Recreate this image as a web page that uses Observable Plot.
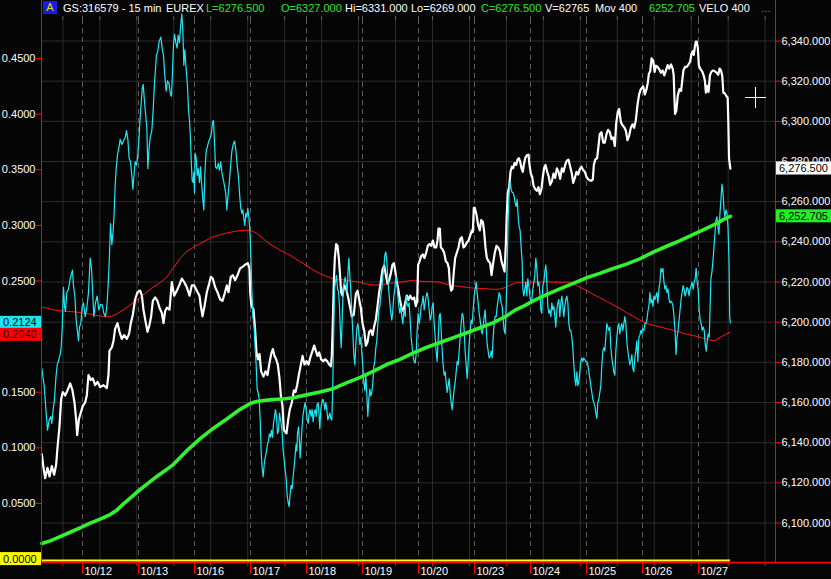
<!DOCTYPE html>
<html><head><meta charset="utf-8">
<script src="https://cdn.jsdelivr.net/npm/d3@7"></script>
<script src="https://cdn.jsdelivr.net/npm/@observablehq/plot@0.6"></script>
<style>
html,body{margin:0;padding:0;background:#050505;}
#wrap{position:relative;width:831px;height:579px;overflow:hidden;background:#050505;font-family:'Liberation Sans',Arial,sans-serif;}
#hdr span{position:absolute;top:2px;font-size:11px;line-height:12px;white-space:pre;}
#abox{position:absolute;left:43px;top:1px;width:14px;height:13px;background:#1a1ae6;color:#f0d000;font-size:11px;line-height:13px;text-align:center;}
.cross{position:absolute;background:#fff;}
</style></head><body><div id="wrap"><div id="hdr"><div id="abox">A</div></div>
<div class="cross" style="left:745px;top:97px;width:21px;height:1px"></div>
<div class="cross" style="left:755px;top:87px;width:1px;height:21px"></div>
</div>
<script>
// x = trading-day position (0 = start of 10/12)
const dayT = [0,1,2,3,4,5,6,7,8,9,10,11];
const dayLabels = ["10/12","10/13","10/16","10/17","10/18","10/19","10/20","10/23","10/24","10/25","10/26","10/27"];
const gridT = [-0.35,0.31,0.97,1.63,2.29,2.95,3.61,4.27,4.93,5.59,6.25,6.91,7.57,8.23,8.89,9.55,10.21,10.87,11.53,12.19];
const priceTicks = [6100,6120,6140,6160,6180,6200,6220,6240,6260,6280,6300,6320,6340];
const veloTicks = [0,0.05,0.1,0.15,0.2,0.25,0.3,0.35,0.4,0.45];
const veloHiddenLabels = [0, 0.2]; // covered by the value tags in the reference

// price (white, right axis)
const price = [[-0.726,6134.3],[-0.696,6127.5],[-0.667,6122.3],[-0.625,6127.5],[-0.589,6123.2],[-0.548,6128.3],[-0.506,6124],[-0.47,6129.2],[-0.446,6137.7],[-0.411,6148],[-0.381,6161.7],[-0.351,6165.2],[-0.31,6163.5],[-0.268,6166],[-0.22,6169.5],[-0.179,6166],[-0.143,6160],[-0.113,6151.5],[-0.095,6143.7],[-0.065,6151.5],[-0.03,6155],[0.006,6158.3],[0.048,6160],[0.077,6163.5],[0.107,6173.7],[0.149,6171.2],[0.185,6172],[0.226,6168.6],[0.268,6170.3],[0.315,6167.7],[0.375,6168.6],[0.435,6167.2],[0.464,6173.7],[0.482,6185.7],[0.524,6187.4],[0.554,6190.8],[0.583,6196.8],[0.625,6199.5],[0.661,6195.2],[0.702,6191.7],[0.744,6193.5],[0.792,6191.7],[0.833,6194.3],[0.863,6199.5],[0.899,6203.7],[0.94,6211.4],[0.982,6214.9],[1.03,6215.7],[1.06,6213.2],[1.089,6206.2],[1.131,6199.5],[1.161,6195.2],[1.196,6198.6],[1.226,6202.9],[1.256,6210.6],[1.298,6212.3],[1.339,6210.6],[1.375,6207.2],[1.417,6204.6],[1.446,6199.5],[1.476,6205.5],
[1.506,6207.2],[1.554,6206.3],[1.595,6220],[1.637,6213.2],[1.685,6215.7],[1.726,6218.3],[1.774,6221.7],[1.815,6220],[1.863,6217.4],[1.911,6213.2],[1.952,6218.3],[1.994,6218.3],[2.042,6215.7],[2.089,6213.2],[2.113,6208],[2.143,6202.9],[2.179,6208],[2.22,6214.9],[2.262,6219.2],[2.292,6222.6],[2.327,6221.7],[2.369,6217.4],[2.411,6214.9],[2.458,6211.4],[2.5,6210.6],[2.536,6214],[2.577,6218.3],[2.607,6214.9],[2.649,6222.6],[2.685,6223.4],[2.726,6220.9],[2.768,6223.4],[2.815,6226.8],[2.863,6227.7],[2.905,6228.6],[2.952,6229.4],[2.982,6226.8],[2.994,6214.9],[3.018,6208],[3.054,6206.3],[3.083,6196],[3.107,6184.9],[3.131,6181.5],[3.161,6184.1],[3.19,6175.5],[3.232,6172.9],[3.268,6175.5],[3.304,6173.7],[3.339,6179.7],[3.369,6184.1],[3.399,6186.6],[3.429,6183.2],[3.458,6181.5],[3.488,6178.9],[3.518,6172],[3.542,6163.5],[3.571,6158.3],
[3.595,6146.3],[3.643,6144.6],[3.673,6151.5],[3.702,6156.6],[3.738,6160],[3.774,6166],[3.804,6165.2],[3.833,6168.6],[3.863,6173.7],[3.893,6178],[3.929,6183.2],[3.964,6178.9],[4,6180.6],[4.036,6178.9],[4.071,6182.7],[4.107,6185.7],[4.137,6188.3],[4.167,6185.7],[4.196,6183.2],[4.226,6184.9],[4.262,6181.5],[4.298,6180.6],[4.333,6181.5],[4.369,6180.6],[4.405,6178.9],[4.435,6178],[4.452,6183.2],[4.47,6199.5],[4.488,6220],[4.506,6232],[4.53,6238.9],[4.554,6238],[4.577,6232],[4.595,6225.2],[4.619,6214.9],[4.643,6213.2],[4.673,6218.3],[4.708,6216.6],[4.744,6212.3],[4.78,6207.2],[4.81,6202.9],[4.845,6203.7],[4.881,6214],[4.911,6215.7],[4.94,6211.4],[4.97,6207.2],[5,6199.5],[5.03,6196],[5.06,6188.3],[5.089,6190],[5.119,6195.2],[5.149,6196],[5.179,6193.5],[5.208,6197.8],[5.238,6201.2],[5.268,6208],[5.298,6214.9],[5.327,6220],[5.357,6226],[5.387,6228.2],[5.417,6223.4],[5.446,6219.2],[5.476,6220.9],[5.506,6224.3],[5.536,6228.6],[5.56,6229.4],[5.583,6226],[5.607,6220.9],[5.637,6216.6],[5.667,6211.4],[5.696,6207.2],
[5.732,6205.5],[5.762,6209.7],[5.792,6213.2],[5.821,6211.1],[5.851,6213.2],[5.887,6211.4],[5.923,6212.3],[5.952,6208],[5.976,6210.6],[5.994,6228.6],[6.018,6230.3],[6.048,6232.9],[6.077,6233.7],[6.107,6232],[6.137,6234.6],[6.167,6238],[6.196,6238.9],[6.226,6238],[6.256,6240.6],[6.286,6237.2],[6.315,6237.2],[6.339,6240.6],[6.357,6246.6],[6.381,6246.6],[6.399,6237.2],[6.429,6236.3],[6.458,6234.6],[6.488,6230.3],[6.518,6229.4],[6.542,6226.9],[6.56,6219.2],[6.583,6215.7],[6.607,6216.6],[6.631,6225.2],[6.655,6232],[6.685,6234.6],[6.714,6237.2],[6.744,6241.4],[6.774,6242.3],[6.804,6237.2],[6.833,6238],[6.863,6239.7],[6.893,6240.6],[6.923,6243.1],[6.952,6245.7],[6.97,6244.9],[6.988,6256.9],[7.006,6256.9],[7.036,6253.4],[7.065,6248.3],[7.095,6245.7],[7.119,6250.8],[7.149,6250],[7.173,6244.9],[7.196,6237.2],[7.22,6232],[7.25,6230.3],[7.28,6229.4],[7.304,6223.4],[7.333,6229.4],[7.363,6234.6],[7.393,6238],[7.423,6237.2],[7.452,6235.5],[7.482,6230.3],[7.512,6227.7],[7.536,6225.2],[7.56,6238.9],[7.577,6254.3],[7.595,6264.6],[7.619,6267.2],[7.643,6274.9],[7.667,6277.4],[7.69,6276.6],[7.714,6279.2],[7.744,6278.3],[7.768,6280.9],[7.792,6281.7],[7.815,6280],[7.839,6276.6],[7.863,6274.9],
[7.881,6278.3],[7.905,6281.7],[7.935,6283.1],[7.964,6283.4],[7.982,6278.3],[8.006,6274],[8.03,6272.3],[8.054,6268],[8.083,6266.3],[8.113,6265.4],[8.143,6267.2],[8.167,6263.7],[8.196,6266.3],[8.22,6272.3],[8.244,6276.9],[8.268,6278.3],[8.298,6274.9],[8.327,6272.3],[8.351,6268.4],[8.381,6270.1],[8.411,6274],[8.44,6271.8],[8.47,6276.6],[8.5,6274.9],[8.53,6271.4],[8.56,6276.6],[8.589,6274.9],[8.619,6278.3],[8.649,6280.4],[8.679,6280.9],[8.708,6277.5],[8.738,6274],[8.762,6269.4],[8.792,6271.8],[8.821,6274.9],[8.851,6273.5],[8.881,6276.2],[8.911,6277.4],[8.94,6275.7],[8.97,6274.9],[9,6272.3],[9.03,6271.1],[9.06,6270.6],[9.089,6270.4],[9.113,6271.1],[9.131,6278.3],[9.155,6280.9],[9.19,6281.7],[9.214,6287.7],[9.238,6293.7],[9.268,6294.6],[9.298,6289.4],[9.327,6289.4],[9.357,6293.7],[9.387,6295.8],[9.417,6294.6],[9.446,6291.2],[9.476,6292],[9.506,6287.7],[9.53,6298.9],[9.56,6304.9],[9.583,6306.1],[9.613,6299.7],[9.643,6298],[9.673,6297.1],[9.702,6295.4],[9.732,6290.6],[9.762,6292.9],[9.792,6296.8],[9.821,6298.5],[9.851,6296.8],[9.881,6300.6],[9.911,6308.3],[9.94,6313.4],[9.97,6316],
[10.012,6317.4],[10.042,6313.4],[10.072,6316],[10.096,6319.4],[10.114,6323.7],[10.138,6324.9],[10.162,6331.4],[10.192,6330.1],[10.216,6324.6],[10.24,6327.7],[10.269,6327.1],[10.299,6325.9],[10.329,6324.2],[10.359,6325.4],[10.389,6322.9],[10.419,6325.4],[10.449,6328],[10.479,6326.3],[10.509,6328.3],[10.539,6326.3],[10.557,6322.9],[10.569,6312.6],[10.581,6303.7],[10.605,6305.4],[10.629,6312.6],[10.659,6316],[10.689,6315.1],[10.713,6321.1],[10.731,6325.4],[10.76,6327.1],[10.79,6327.1],[10.82,6328.3],[10.85,6329.7],[10.874,6333.5],[10.898,6334.9],[10.916,6333.1],[10.934,6336.9],[10.952,6339.7],[10.97,6339.7],[10.988,6336.6],[11.006,6328],[11.036,6325.9],[11.066,6324.9],[11.096,6322.5],[11.114,6320.3],[11.132,6314.3],[11.156,6317.7],[11.18,6314.6],[11.204,6322.9],[11.234,6324.9],[11.263,6325.4],[11.293,6324.9],[11.323,6324.2],[11.353,6323.2],[11.377,6326.3],[11.401,6325.4],[11.425,6322.5],[11.443,6314.3],[11.467,6314],[11.497,6312.6],[11.521,6311.8],[11.533,6298.9],[11.545,6281.7],[11.569,6276.5]];

// Mov 400 (green, right axis)
const mov = [[-0.726,6089.8],[-0.577,6091.1],[-0.399,6093.2],[-0.22,6095.4],[-0.042,6097.6],[0.137,6099.9],[0.315,6101.9],[0.494,6104.2],[0.613,6106.4],[0.732,6109.5],[0.851,6112.4],[0.97,6115.3],[1.089,6118],[1.208,6120.6],[1.327,6123.2],[1.476,6126.1],[1.625,6129.2],[1.863,6136],[2.101,6142],[2.339,6147.2],[2.577,6151.8],[2.815,6156.6],[2.994,6159.5],[3.113,6160.5],[3.232,6161],[3.351,6161.3],[3.47,6161.6],[3.619,6161.9],[3.762,6162.4],[4,6163.8],[4.238,6165.2],[4.476,6166.9],[4.714,6169.8],[4.952,6172.4],[5.19,6175.5],[5.429,6178.9],[5.667,6181.5],[5.911,6184.7],[6.149,6187.5],[6.387,6189.9],[6.625,6192.3],[6.863,6194.7],[7.101,6197.2],[7.339,6199.8],[7.577,6203.2],[7.726,6206],[7.905,6208.4],[8.048,6210.6],[8.286,6213.7],[8.524,6216.6],[8.762,6219.3],[9,6222.1],[9.238,6224.3],[9.476,6226.7],[9.714,6228.9],[9.952,6231.5],[10.192,6234.9],[10.431,6237.8],[10.671,6240.6],[10.91,6243.7],[11.15,6246.8],[11.329,6249.2],[11.449,6251.2],[11.569,6252.705]];

// VELO 400 (cyan, left axis)
const velo = [[-0.726,0.1715],[-0.685,0.156],[-0.649,0.1313],[-0.625,0.1158],[-0.595,0.1251],[-0.565,0.1282],[-0.548,0.122],[-0.524,0.1344],[-0.5,0.1437],[-0.476,0.1622],[-0.452,0.1746],[-0.423,0.1792],[-0.399,0.1839],[-0.381,0.1901],[-0.363,0.2056],[-0.351,0.2272],[-0.339,0.2442],[-0.321,0.2272],[-0.304,0.2226],[-0.28,0.2396],[-0.25,0.2427],[-0.22,0.252],[-0.196,0.2566],[-0.179,0.2597],[-0.161,0.2458],[-0.137,0.2365],[-0.113,0.2148],[-0.089,0.204],[-0.071,0.1963],[-0.054,0.2086],[-0.03,0.2117],[-0.006,0.2272],[0.018,0.2303],[0.048,0.2179],[0.077,0.2257],[0.107,0.2396],[0.137,0.2705],[0.161,0.2613],[0.185,0.2365],[0.202,0.2179],[0.232,0.2303],[0.262,0.2365],[0.292,0.2241],[0.321,0.2288],[0.351,0.2288],[0.381,0.221],[0.411,0.2179],[0.44,0.2303],[0.464,0.252],[0.482,0.2736],[0.5,0.3015],[0.524,0.2829],[0.548,0.2953],[0.565,0.3108],[0.583,0.3355],[0.601,0.351],[0.625,0.3634],[0.649,0.3696],[0.673,0.3773],[0.702,0.3727],[0.732,0.3758],[0.762,0.3789],[0.786,0.3851],[0.81,0.3773],[0.833,0.3603],[0.857,0.3572],[0.881,0.3448],[0.899,0.3324],[0.917,0.3433],[0.94,0.3572],[0.964,0.3541],[0.988,0.3634],[1.006,0.3758],[1.03,0.3974],[1.048,0.4098],[1.065,0.4222],[1.083,0.4268],[1.107,0.4114],[1.131,0.3974],[1.149,0.3882],[1.167,0.351],[1.185,0.3665],[1.208,0.3789],[1.238,0.3851],[1.262,0.4036],[1.286,0.4284],[1.304,0.4408],[1.321,0.4531],[1.345,0.4562],[1.369,0.4655],[1.399,0.4692],[1.423,0.4593],[1.446,0.4531],[1.47,0.4346],
[1.494,0.4206],[1.518,0.4299],[1.548,0.4268],[1.571,0.4176],[1.589,0.416],[1.607,0.4377],[1.625,0.4624],[1.643,0.4717],[1.667,0.464],[1.69,0.4593],[1.708,0.4711],[1.732,0.464],[1.75,0.478],[1.774,0.49],[1.792,0.4748],[1.81,0.4439],[1.827,0.4578],[1.851,0.4408],[1.875,0.4253],[1.893,0.4036],[1.911,0.3943],[1.929,0.3773],[1.94,0.3603],[1.958,0.3402],[1.976,0.3386],[1.988,0.3479],[2,0.3293],[2.012,0.3649],[2.03,0.3603],[2.048,0.3448],[2.065,0.351],[2.089,0.3386],[2.107,0.3526],[2.125,0.3386],[2.149,0.3232],[2.167,0.3139],[2.185,0.3464],[2.208,0.3665],[2.232,0.3711],[2.256,0.3758],[2.28,0.3789],[2.304,0.3835],[2.321,0.3928],[2.339,0.3943],[2.357,0.3758],[2.375,0.3526],[2.399,0.351],[2.423,0.3557],[2.446,0.3495],[2.47,0.3572],[2.488,0.3479],[2.512,0.3417],[2.536,0.3355],[2.56,0.3278],[2.577,0.3139],[2.595,0.3247],[2.619,0.3371],[2.643,0.3526],[2.667,0.3665],[2.69,0.3727],[2.714,0.3758],[2.738,0.3681],[2.762,0.3541],[2.786,0.3433],[2.81,0.3247],[2.827,0.3154],[2.845,0.3108],[2.863,0.3139],[2.881,0.3061],[2.899,0.2999],[2.917,0.3108],[2.935,0.3077],[2.952,0.3154],[2.97,0.3077],[2.988,0.2969],[3.006,0.2736],[3.024,0.2427],[3.042,0.2179],[3.065,0.2086],[3.083,0.1901],[3.101,0.1746],[3.119,0.1529],[3.137,0.1498],[3.155,0.1437],[3.173,0.1251],[3.19,0.0972],[3.208,0.0817],[3.226,0.074],[3.244,0.0848],[3.262,0.091],[3.28,0.0957],[3.304,0.1034],[3.321,0.1065],[3.339,0.1127],[3.357,0.1096],[3.375,0.1158],[3.393,0.1096],[3.411,0.122],[3.429,0.1282],[3.446,0.1344],[3.464,0.1282],[3.482,0.1127],[3.5,0.1158],[3.518,0.1313],[3.542,0.1235],[3.565,0.1143],[3.583,0.0972],[3.601,0.0895],
[3.619,0.0802],[3.637,0.0725],[3.655,0.057],[3.673,0.0508],[3.69,0.0471],[3.708,0.0585],[3.726,0.0663],[3.744,0.0632],[3.762,0.074],[3.78,0.0833],[3.798,0.0941],[3.815,0.1034],[3.827,0.0972],[3.839,0.1127],[3.857,0.1189],[3.875,0.105],[3.887,0.091],[3.899,0.1003],[3.917,0.1158],[3.935,0.1282],[3.958,0.1359],[3.976,0.1406],[3.994,0.1344],[4.012,0.1251],[4.03,0.122],[4.048,0.1313],[4.065,0.1344],[4.083,0.1282],[4.101,0.1344],[4.119,0.1235],[4.137,0.1313],[4.155,0.1344],[4.173,0.1282],[4.19,0.139],[4.208,0.1406],[4.226,0.1282],[4.238,0.1173],[4.256,0.1344],[4.274,0.1406],[4.292,0.1437],[4.31,0.1406],[4.327,0.1344],[4.345,0.1406],[4.363,0.1344],[4.381,0.1251],[4.399,0.1282],[4.417,0.1313],[4.435,0.1266],[4.452,0.1251],[4.464,0.1437],[4.476,0.1746],[4.488,0.2086],[4.5,0.2427],[4.518,0.2489],[4.536,0.255],[4.554,0.2427],[4.571,0.2411],[4.589,0.2272],[4.607,0.2024],[4.619,0.1901],[4.637,0.2148],[4.655,0.2427],[4.673,0.2489],[4.69,0.2535],[4.708,0.2473],[4.726,0.2396],[4.744,0.2613],[4.756,0.2705],[4.774,0.255],[4.792,0.2411],[4.81,0.221],[4.827,0.204],[4.845,0.1839],[4.863,0.1746],[4.881,0.193],[4.899,0.2071],[4.917,0.2117],[4.935,0.204],[4.952,0.193],[4.97,0.1994],[4.988,0.1854],[5.006,0.173],[5.024,0.1591],[5.042,0.1514],[5.06,0.1653],[5.077,0.1483],[5.095,0.1282],[5.113,0.1437],[5.131,0.1529],[5.149,0.1467],[5.167,0.1498],[5.185,0.1591],[5.202,0.173],[5.22,0.1777],[5.238,0.1901],[5.256,0.1963],[5.274,0.2117],[5.292,0.2241],[5.31,0.2272],[5.327,0.2365],[5.345,0.2427],[5.363,0.255],[5.381,0.2613],[5.399,0.2736],[5.417,0.2761],[5.435,0.2674],[5.452,0.252],[5.47,0.2411],[5.488,0.2303],[5.506,0.221],[5.524,0.2148],[5.542,0.2241],[5.56,0.2365],[5.577,0.2427],[5.595,0.255],[5.613,0.2489],[5.631,0.2365],[5.649,0.2272],[5.667,0.221],[5.685,0.2272],[5.702,0.2179],[5.72,0.2117],[5.738,0.2241],
[5.762,0.2179],[5.78,0.2365],[5.798,0.2288],[5.815,0.2272],[5.833,0.2303],[5.851,0.2148],[5.869,0.1994],[5.887,0.1901],[5.905,0.1823],[5.923,0.1777],[5.94,0.1761],[5.958,0.1839],[5.976,0.2056],[5.994,0.221],[6.012,0.2117],[6.03,0.2179],[6.048,0.2272],[6.065,0.2303],[6.083,0.2365],[6.101,0.2241],[6.119,0.2303],[6.137,0.2365],[6.155,0.2396],[6.173,0.2334],[6.19,0.2241],[6.208,0.2148],[6.226,0.2179],[6.244,0.2272],[6.262,0.2303],[6.28,0.2117],[6.298,0.1994],[6.315,0.187],[6.333,0.1777],[6.351,0.1963],[6.369,0.2179],[6.387,0.221],[6.405,0.2056],[6.423,0.187],[6.44,0.1746],[6.458,0.1653],[6.476,0.1684],[6.494,0.1591],[6.512,0.1498],[6.53,0.156],[6.548,0.1622],[6.565,0.1498],[6.583,0.1406],[6.601,0.1344],[6.619,0.1437],[6.637,0.1529],[6.655,0.1591],[6.673,0.1684],[6.69,0.1777],[6.708,0.1746],[6.726,0.187],[6.744,0.1994],[6.762,0.2117],[6.78,0.221],[6.798,0.2179],[6.815,0.2056],[6.833,0.187],[6.851,0.1746],[6.869,0.1622],[6.887,0.1777],[6.905,0.1932],[6.923,0.2056],[6.94,0.2148],[6.958,0.2117],[6.976,0.2241],[6.994,0.2365],[7.012,0.2427],[7.03,0.2489],[7.048,0.2396],[7.065,0.2303],[7.083,0.221],[7.101,0.2148],[7.119,0.2056],[7.137,0.2025],[7.155,0.2086],[7.173,0.2179],[7.19,0.2241],[7.208,0.2086],[7.226,0.1932],[7.244,0.187],[7.262,0.1808],[7.28,0.1823],[7.298,0.187],[7.315,0.1808],[7.333,0.1994],[7.351,0.2117],[7.369,0.2179],[7.387,0.2179],[7.405,0.2272],[7.423,0.2334],[7.44,0.2396],[7.458,0.2365],[7.476,0.2303],[7.494,0.2272],[7.512,0.2148],[7.53,0.2056],[7.548,0.2025],[7.565,0.2272],[7.583,0.2613],[7.601,0.3046],[7.619,0.3294],[7.637,0.3393],[7.655,0.3324],[7.673,0.3294],[7.69,0.3294],[7.708,0.3263],[7.726,0.3201],[7.744,0.317],[7.762,0.3232],[7.78,0.3077],[7.798,0.2984],[7.815,0.2953],[7.833,0.2798],[7.851,0.2674],
[7.863,0.2427],[7.881,0.2365],[7.899,0.2427],[7.917,0.2489],[7.935,0.2365],[7.952,0.252],[7.97,0.2458],[7.988,0.2365],[8.006,0.2303],[8.024,0.2334],[8.042,0.2427],[8.06,0.2489],[8.077,0.255],[8.095,0.2705],[8.113,0.2613],[8.131,0.2458],[8.149,0.2489],[8.167,0.2396],[8.185,0.2241],[8.202,0.221],[8.22,0.2458],[8.238,0.2489],[8.256,0.2582],[8.274,0.2644],[8.292,0.2489],[8.31,0.2272],[8.327,0.221],[8.345,0.2241],[8.363,0.2179],[8.381,0.2303],[8.399,0.2241],[8.417,0.2272],[8.435,0.2179],[8.452,0.2086],[8.47,0.2241],[8.488,0.2303],[8.506,0.2334],[8.524,0.2179],[8.542,0.2303],[8.56,0.2365],[8.577,0.2272],[8.595,0.2179],[8.613,0.2272],[8.631,0.2334],[8.649,0.2365],[8.667,0.2303],[8.685,0.2117],[8.702,0.2056],[8.72,0.2056],[8.738,0.1994],[8.756,0.1901],[8.774,0.1746],[8.792,0.1622],[8.81,0.156],[8.827,0.1684],[8.845,0.156],[8.863,0.1591],[8.881,0.1684],[8.899,0.1777],[8.917,0.1808],[8.935,0.1777],[8.952,0.1808],[8.97,0.1792],[8.988,0.1777],[9.006,0.1777],[9.024,0.1746],[9.042,0.1684],[9.06,0.1622],[9.077,0.156],[9.095,0.1498],[9.113,0.1437],[9.131,0.1406],[9.149,0.1375],[9.167,0.1313],[9.185,0.1266],[9.202,0.1406],[9.22,0.1437],[9.238,0.1498],[9.256,0.156],[9.274,0.1746],[9.292,0.187],[9.31,0.1901],[9.327,0.187],[9.345,0.1994],[9.363,0.2117],[9.381,0.2086],[9.399,0.2056],[9.417,0.2086],[9.435,0.1901],[9.452,0.1808],[9.47,0.1746],[9.488,0.1684],[9.506,0.1653],[9.524,0.187],[9.542,0.1994],[9.56,0.2086],[9.577,0.2117],[9.595,0.2025],[9.613,0.2086],[9.631,0.2117],[9.649,0.2056],[9.667,0.2117],[9.685,0.2179],[9.702,0.2117],[9.72,0.1963],[9.738,0.187],[9.756,0.1808],[9.774,0.1746],[9.792,0.1777],[9.81,0.1839],[9.827,0.1715],[9.845,0.1684],[9.863,0.1808],[9.881,0.187],[9.899,0.1963],[9.917,0.1777],[9.935,0.1994],
[9.952,0.2009],[9.97,0.2056],[9.988,0.2025],[10.006,0.2071],[10.024,0.2056],[10.042,0.2117],[10.06,0.2117],[10.078,0.2148],[10.096,0.2226],[10.114,0.2272],[10.132,0.2396],[10.15,0.2303],[10.168,0.2334],[10.186,0.2272],[10.204,0.2365],[10.222,0.2334],[10.24,0.2365],[10.257,0.2396],[10.275,0.2303],[10.293,0.2427],[10.311,0.2489],[10.329,0.2613],[10.347,0.2582],[10.365,0.2613],[10.383,0.2489],[10.401,0.2427],[10.419,0.2458],[10.437,0.2396],[10.455,0.2427],[10.473,0.2334],[10.491,0.2303],[10.509,0.2319],[10.527,0.2303],[10.545,0.2272],[10.563,0.2179],[10.581,0.2056],[10.599,0.1839],[10.617,0.1994],[10.635,0.2056],[10.653,0.2148],[10.671,0.2241],[10.689,0.2334],[10.707,0.2396],[10.725,0.2458],[10.743,0.2427],[10.76,0.2365],[10.778,0.2396],[10.796,0.2442],[10.814,0.2427],[10.832,0.2365],[10.85,0.2427],[10.868,0.2458],[10.886,0.2489],[10.904,0.2427],[10.922,0.2489],[10.94,0.252],[10.958,0.2613],[10.976,0.2489],[10.994,0.2427],[11.012,0.2241],[11.03,0.2148],[11.048,0.2117],[11.066,0.2056],[11.084,0.2086],[11.102,0.2056],[11.12,0.1932],[11.138,0.187],[11.156,0.1963],[11.174,0.2025],[11.192,0.1994],[11.204,0.221],[11.222,0.252],[11.24,0.2582],[11.257,0.2674],[11.275,0.2798],[11.293,0.2922],[11.311,0.3046],[11.329,0.3077],[11.347,0.2984],[11.365,0.2922],[11.383,0.3108],[11.401,0.3232],[11.419,0.3371],[11.437,0.3294],[11.455,0.3139],[11.473,0.3077],[11.491,0.3139],[11.509,0.3108],[11.527,0.2984],[11.545,0.2674],[11.557,0.2179],[11.569,0.2124]];

// VELO moving average (red, left axis)
const veloMA = [[-0.726,0.2263],[-0.637,0.2257],[-0.518,0.2241],[-0.399,0.2232],[-0.28,0.2226],[-0.161,0.2223],[-0.042,0.2216],[0.077,0.2207],[0.196,0.2198],[0.315,0.2185],[0.435,0.2179],[0.524,0.2185],[0.613,0.2204],[0.702,0.2232],[0.792,0.2263],[0.881,0.2297],[0.97,0.2328],[1.06,0.2365],[1.149,0.2402],[1.238,0.2436],[1.327,0.2465],[1.4,0.249],[1.506,0.2535],[1.625,0.2619],[1.744,0.2705],[1.863,0.2767],[1.982,0.2804],[2.101,0.2835],[2.22,0.2869],[2.339,0.2897],[2.458,0.2916],[2.577,0.2931],[2.696,0.2944],[2.815,0.2953],[2.935,0.2956],[3.024,0.295],[3.113,0.2928],[3.202,0.2891],[3.292,0.2851],[3.381,0.282],[3.47,0.2795],[3.56,0.2767],[3.643,0.2749],[3.762,0.2712],[3.881,0.2675],[4,0.2637],[4.119,0.26],[4.238,0.2566],[4.357,0.2541],[4.476,0.252],[4.595,0.2514],[4.714,0.2507],[4.833,0.2498],[4.952,0.2489],[5.071,0.2473],[5.19,0.2464],[5.31,0.2464],[5.429,0.2473],[5.548,0.2483],[5.673,0.2489],[5.851,0.2504],[6.03,0.2498],[6.208,0.2495],[6.387,0.2489],[6.506,0.247],[6.625,0.2458],[6.744,0.2452],[6.863,0.2442],[6.982,0.2436],[7.101,0.2433],[7.22,0.243],[7.339,0.2424],[7.458,0.2427],[7.548,0.2442],[7.637,0.2464],[7.726,0.248],[7.81,0.2489],[8.048,0.2489],[8.286,0.2492],[8.524,0.2489],[8.702,0.2489],[8.792,0.247],[8.881,0.2445],[9,0.2414],[9.119,0.238],[9.238,0.2349],[9.357,0.2318],[9.476,0.2284],[9.595,0.2254],[9.714,0.2216],[9.833,0.2182],[9.952,0.2148],[10.072,0.2117],[10.192,0.2102],[10.311,0.2087],[10.431,0.2071],[10.551,0.2056],[10.671,0.204],[10.79,0.2021],[10.91,0.2009],[11.03,0.1994],[11.15,0.1978],[11.24,0.1963],[11.299,0.1966],[11.389,0.1994],[11.479,0.2018],[11.569,0.204]];

const header = [
  {x:63,  c:"#ffffff", t:"GS:316579 - 15 min"},
  {x:166, c:"#ffffff", t:"EUREX"},
  {x:206, c:"#2ee62e", t:"L=6276.500"},
  {x:281, c:"#2ee62e", t:"O=6327.000"},
  {x:345, c:"#ffffff", t:"Hi=6331.000"},
  {x:411, c:"#ffffff", t:"Lo=6269.000"},
  {x:481, c:"#2ee62e", t:"C=6276.500"},
  {x:545, c:"#ffffff", t:"V=62765"},
  {x:595, c:"#ffffff", t:"Mov 400"},
  {x:649, c:"#2ee62e", t:"6252.705"},
  {x:699, c:"#ffffff", t:"VELO 400"},
  {x:761, c:"#ff2020", t:"..."}
];

// left (VELO) axis mapped onto the price scale
const v2p = d3.scaleLinear([0, 0.45], [6082.02, 6331.29]);
const fmtP = d3.format(",.3f");
const fmtV = v => v.toFixed(4);
const last = a => a[a.length - 1][1];
const veloLabel = p => {
  const v = v2p.invert(p);
  return veloHiddenLabels.some(h => Math.abs(h - v) < 1e-6) ? "" : fmtV(v);
};

function decorations(index, scales, values, dims) {
  const W = dims.width, H = dims.height, mL = dims.marginLeft, mR = dims.marginRight, mB = dims.marginBottom;
  const y = scales.y;
  const g = d3.create("svg:g").attr("text-anchor", "start");
  const red = "#ff0000";
  const xL = mL + 0.5, xR = W - mR + 0.5, yB = H - mB + 0.5;
  g.append("line").attr("x1", xL).attr("x2", xL).attr("y1", 0).attr("y2", yB).attr("stroke", red);
  g.append("line").attr("x1", xR).attr("x2", xR).attr("y1", 0).attr("y2", yB).attr("stroke", red);
  g.append("line").attr("x1", xL).attr("x2", W).attr("y1", yB).attr("y2", yB).attr("stroke", red).attr("stroke-width", 1.5);
  function tag(cy, text, bg, fg, x0, w) {
    g.append("rect").attr("x", x0).attr("y", cy - 6.5).attr("width", w).attr("height", 13).attr("fill", bg);
    g.append("text").attr("x", x0 + 3).attr("y", cy).attr("dy", "0.36em").attr("fill", fg)
      .attr("text-anchor", "start").attr("font-size", 11).text(text);
  }
  const yc = y(v2p(last(velo)));
  const yr = Math.max(y(v2p(last(veloMA))), yc + 12);
  tag(yc, fmtV(last(velo)), "#19e6f0", "#000", 0, mL);
  tag(yr, fmtV(last(veloMA)), "#ff0000", "#200000", 0, mL);
  tag(y(v2p(0)), fmtV(0), "#ffff00", "#000", 0, mL);
  tag(y(last(price)), fmtP(last(price)), "#ffffff", "#000", W - mR + 1, mR - 1);
  tag(y(last(mov)), fmtP(last(mov)), "#22f022", "#000", W - mR + 1, mR - 1);
  return g.node();
}

const chart = Plot.plot({
  width: 831, height: 579,
  marginLeft: 41, marginRight: 56, marginTop: 19, marginBottom: 17,
  x: {domain: [-0.732, 12.375]},
  y: {domain: [6080.33, 6350.71]},
  style: {background: "#050505", color: "#ffffff", fontFamily: "'Liberation Sans', Arial, sans-serif", fontSize: "11px"},
  marks: [
    Plot.gridY(priceTicks, {stroke: "#2d2d2d", strokeOpacity: 1}),
    Plot.gridX(gridT, {stroke: "#2d2d2d", strokeOpacity: 1}),
    Plot.gridX(dayT, {stroke: "#5c5c5c", strokeOpacity: 1, strokeDasharray: "5,4"}),
    Plot.ruleY([0], {y: v => v2p(v), x1: velo[0][0], x2: velo[velo.length - 1][0], stroke: "#ffff00", strokeWidth: 2, dy: 1.5}),
    Plot.line(veloMA, {x: d => d[0], y: d => v2p(d[1]), stroke: "#ff1414", strokeWidth: 1}),
    Plot.line(price, {x: d => d[0], y: d => d[1], stroke: "#ffffff", strokeWidth: 2.2}),
    Plot.line(velo, {x: d => d[0], y: d => v2p(d[1]), stroke: "#1ee8f4", strokeWidth: 1.2}),
    Plot.line(mov, {x: d => d[0], y: d => d[1], stroke: "#33f033", strokeWidth: 3.6}),
    Plot.axisY(veloTicks.map(v => v2p(v)), {anchor: "left", tickSize: 5, tickPadding: 1, stroke: "#ff0000", fill: "#ffffff", fontSize: 11, tickFormat: veloLabel}),
    Plot.axisY(priceTicks, {anchor: "right", tickSize: 5, tickPadding: 1, stroke: "#ff0000", fill: "#ffffff", fontSize: 11, tickFormat: fmtP}),
    Plot.axisX(dayT, {anchor: "bottom", tickSize: 12, stroke: "#ff0000", tickFormat: () => ""}),
    Plot.axisX(gridT, {anchor: "bottom", tickSize: 4, stroke: "#ff0000", tickFormat: () => ""}),
    Plot.axisX(dayT, {anchor: "bottom", tickSize: 0, tickPadding: 5, fill: "#ffffff", fontSize: 11, textAnchor: "start", dx: 2, tickFormat: i => dayLabels[i]}),
    Plot.axisX(gridT.concat(dayT), {anchor: "top", tickSize: 4, stroke: "#606060", tickFormat: () => ""}),
    decorations
  ]
});
const wrap = document.getElementById("wrap");
wrap.prepend(chart);
const hdr = document.getElementById("hdr");
for (const h of header) {
  const s = document.createElement("span");
  s.style.left = h.x + "px"; s.style.color = h.c; s.textContent = h.t;
  hdr.appendChild(s);
}
</script>
</body></html>
